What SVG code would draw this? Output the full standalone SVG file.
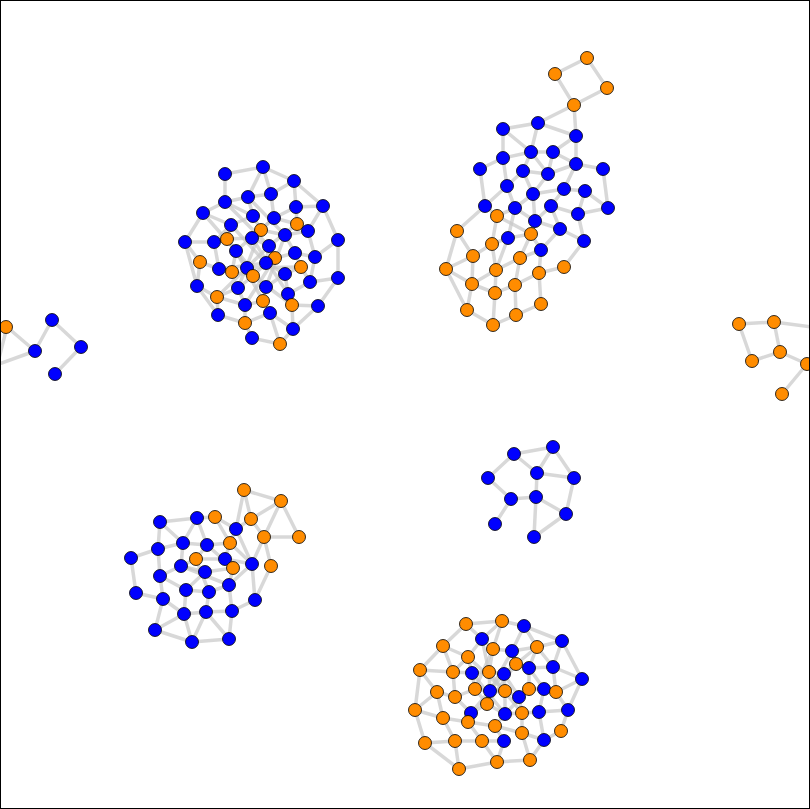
<svg xmlns="http://www.w3.org/2000/svg" width="810" height="809" viewBox="0 0 810 809">
<style>
.e line{stroke:#c8c8c8;stroke-opacity:0.7;stroke-width:3.5;stroke-linecap:round}
circle{stroke:#000;stroke-width:0.8}
.b{fill:#0000ff}
.o{fill:#ff8c00}
</style>
<rect x="0" y="0" width="810" height="809" fill="#fff"/>
<g class="e" id="connectors">
<!-- cluster 1 -->
<line x1="225" y1="174" x2="263" y2="167"/><line x1="263" y1="167" x2="294" y2="181"/><line x1="225" y1="174" x2="225" y2="202"/><line x1="263" y1="167" x2="248" y2="197"/><line x1="263" y1="167" x2="271" y2="194"/><line x1="294" y1="181" x2="271" y2="194"/><line x1="294" y1="181" x2="323" y2="206"/><line x1="294" y1="181" x2="296" y2="207"/><line x1="225" y1="202" x2="203" y2="213"/><line x1="225" y1="202" x2="248" y2="197"/><line x1="248" y1="197" x2="271" y2="194"/><line x1="225" y1="202" x2="253" y2="216"/><line x1="203" y1="213" x2="185" y2="242"/><line x1="203" y1="213" x2="231" y2="225"/><line x1="296" y1="207" x2="323" y2="206"/><line x1="296" y1="207" x2="274" y2="218"/><line x1="323" y1="206" x2="338" y2="240"/><line x1="323" y1="206" x2="308" y2="231"/><line x1="271" y1="194" x2="274" y2="218"/><line x1="248" y1="197" x2="253" y2="216"/><line x1="253" y1="216" x2="231" y2="225"/><line x1="253" y1="216" x2="261" y2="230"/><line x1="274" y1="218" x2="261" y2="230"/><line x1="274" y1="218" x2="297" y2="224"/><line x1="296" y1="207" x2="297" y2="224"/><line x1="297" y1="224" x2="308" y2="231"/><line x1="231" y1="225" x2="227" y2="239"/><line x1="231" y1="225" x2="214" y2="242"/><line x1="185" y1="242" x2="214" y2="242"/><line x1="185" y1="242" x2="200" y2="262"/><line x1="185" y1="242" x2="197" y2="286"/><line x1="214" y1="242" x2="227" y2="239"/><line x1="214" y1="242" x2="219" y2="269"/><line x1="227" y1="239" x2="252" y2="238"/><line x1="227" y1="239" x2="236" y2="251"/><line x1="252" y1="238" x2="261" y2="230"/><line x1="252" y1="238" x2="269" y2="246"/><line x1="261" y1="230" x2="285" y2="235"/><line x1="285" y1="235" x2="308" y2="231"/><line x1="285" y1="235" x2="295" y2="253"/><line x1="308" y1="231" x2="315" y2="257"/><line x1="338" y1="240" x2="338" y2="278"/><line x1="338" y1="240" x2="315" y2="257"/><line x1="236" y1="251" x2="247" y2="268"/><line x1="236" y1="251" x2="232" y2="272"/><line x1="269" y1="246" x2="275" y2="258"/><line x1="269" y1="246" x2="266" y2="263"/><line x1="275" y1="258" x2="295" y2="253"/><line x1="295" y1="253" x2="315" y2="257"/><line x1="295" y1="253" x2="301" y2="267"/><line x1="315" y1="257" x2="310" y2="282"/><line x1="200" y1="262" x2="219" y2="269"/><line x1="200" y1="262" x2="197" y2="286"/><line x1="219" y1="269" x2="232" y2="272"/><line x1="232" y1="272" x2="253" y2="276"/><line x1="247" y1="268" x2="253" y2="276"/><line x1="266" y1="263" x2="253" y2="276"/><line x1="266" y1="263" x2="285" y2="274"/><line x1="301" y1="267" x2="285" y2="274"/><line x1="301" y1="267" x2="310" y2="282"/><line x1="310" y1="282" x2="338" y2="278"/><line x1="338" y1="278" x2="318" y2="306"/><line x1="197" y1="286" x2="217" y2="297"/><line x1="197" y1="286" x2="218" y2="315"/><line x1="238" y1="288" x2="217" y2="297"/><line x1="238" y1="288" x2="253" y2="276"/><line x1="238" y1="288" x2="245" y2="305"/><line x1="266" y1="287" x2="263" y2="301"/><line x1="266" y1="287" x2="285" y2="274"/><line x1="285" y1="274" x2="288" y2="294"/><line x1="288" y1="294" x2="292" y2="305"/><line x1="288" y1="294" x2="310" y2="282"/><line x1="292" y1="305" x2="318" y2="306"/><line x1="292" y1="305" x2="293" y2="329"/><line x1="263" y1="301" x2="245" y2="305"/><line x1="263" y1="301" x2="270" y2="313"/><line x1="217" y1="297" x2="218" y2="315"/><line x1="217" y1="297" x2="245" y2="305"/><line x1="245" y1="305" x2="245" y2="323"/><line x1="270" y1="313" x2="245" y2="323"/><line x1="270" y1="313" x2="280" y2="344"/><line x1="270" y1="313" x2="293" y2="329"/><line x1="218" y1="315" x2="245" y2="323"/><line x1="245" y1="323" x2="252" y2="338"/><line x1="252" y1="338" x2="280" y2="344"/><line x1="280" y1="344" x2="293" y2="329"/><line x1="318" y1="306" x2="293" y2="329"/>
<line x1="225" y1="202" x2="269" y2="246"/><line x1="248" y1="197" x2="285" y2="235"/><line x1="231" y1="225" x2="266" y2="263"/><line x1="274" y1="218" x2="236" y2="251"/><line x1="203" y1="213" x2="236" y2="251"/><line x1="297" y1="224" x2="269" y2="246"/><line x1="252" y1="238" x2="288" y2="294"/><line x1="227" y1="239" x2="266" y2="287"/><line x1="261" y1="230" x2="238" y2="288"/><line x1="219" y1="269" x2="266" y2="263"/><line x1="275" y1="258" x2="245" y2="305"/><line x1="253" y1="276" x2="292" y2="305"/><line x1="247" y1="268" x2="301" y2="267"/><line x1="236" y1="251" x2="263" y2="301"/><line x1="269" y1="246" x2="217" y2="297"/><line x1="285" y1="235" x2="266" y2="287"/>
<!-- cluster 2 -->
<line x1="587" y1="58" x2="555" y2="74"/><line x1="587" y1="58" x2="607" y2="88"/><line x1="555" y1="74" x2="574" y2="105"/><line x1="607" y1="88" x2="574" y2="105"/><line x1="574" y1="105" x2="538" y2="123"/><line x1="574" y1="105" x2="576" y2="136"/><line x1="538" y1="123" x2="503" y2="129"/><line x1="538" y1="123" x2="531" y2="152"/><line x1="538" y1="123" x2="576" y2="136"/><line x1="503" y1="129" x2="531" y2="152"/><line x1="503" y1="129" x2="503" y2="158"/><line x1="576" y1="136" x2="553" y2="152"/><line x1="576" y1="136" x2="576" y2="164"/><line x1="503" y1="158" x2="531" y2="152"/><line x1="503" y1="158" x2="480" y2="169"/><line x1="503" y1="158" x2="507" y2="186"/><line x1="531" y1="152" x2="553" y2="152"/><line x1="531" y1="152" x2="523" y2="171"/><line x1="553" y1="152" x2="548" y2="174"/><line x1="553" y1="152" x2="576" y2="164"/><line x1="480" y1="169" x2="485" y2="206"/><line x1="523" y1="171" x2="548" y2="174"/><line x1="523" y1="171" x2="507" y2="186"/><line x1="548" y1="174" x2="576" y2="164"/><line x1="576" y1="164" x2="603" y2="169"/><line x1="576" y1="164" x2="564" y2="189"/><line x1="603" y1="169" x2="608" y2="208"/><line x1="548" y1="174" x2="533" y2="194"/><line x1="523" y1="171" x2="533" y2="194"/><line x1="531" y1="152" x2="548" y2="174"/>
<line x1="507" y1="186" x2="485" y2="206"/><line x1="507" y1="186" x2="515" y2="208"/><line x1="533" y1="194" x2="515" y2="208"/><line x1="533" y1="194" x2="535" y2="221"/><line x1="533" y1="194" x2="564" y2="189"/><line x1="564" y1="189" x2="585" y2="191"/><line x1="564" y1="189" x2="551" y2="206"/><line x1="585" y1="191" x2="578" y2="214"/><line x1="585" y1="191" x2="608" y2="208"/><line x1="551" y1="206" x2="578" y2="214"/><line x1="551" y1="206" x2="535" y2="221"/><line x1="551" y1="206" x2="560" y2="229"/><line x1="578" y1="214" x2="608" y2="208"/><line x1="578" y1="214" x2="584" y2="241"/><line x1="485" y1="206" x2="497" y2="216"/><line x1="485" y1="206" x2="457" y2="231"/><line x1="515" y1="208" x2="497" y2="216"/><line x1="515" y1="208" x2="508" y2="238"/><line x1="515" y1="208" x2="535" y2="221"/><line x1="497" y1="216" x2="492" y2="244"/><line x1="497" y1="216" x2="531" y2="234"/><line x1="535" y1="221" x2="531" y2="234"/><line x1="535" y1="221" x2="560" y2="229"/><line x1="560" y1="229" x2="584" y2="241"/><line x1="560" y1="229" x2="541" y2="250"/><line x1="584" y1="241" x2="564" y2="267"/><line x1="457" y1="231" x2="446" y2="269"/><line x1="457" y1="231" x2="473" y2="256"/><line x1="531" y1="234" x2="508" y2="238"/><line x1="531" y1="234" x2="541" y2="250"/><line x1="531" y1="234" x2="520" y2="258"/><line x1="508" y1="238" x2="492" y2="244"/><line x1="508" y1="238" x2="496" y2="270"/><line x1="492" y1="244" x2="473" y2="256"/><line x1="492" y1="244" x2="496" y2="270"/><line x1="541" y1="250" x2="539" y2="273"/><line x1="541" y1="250" x2="520" y2="258"/><line x1="473" y1="256" x2="446" y2="269"/><line x1="473" y1="256" x2="472" y2="284"/><line x1="520" y1="258" x2="496" y2="270"/><line x1="520" y1="258" x2="515" y2="285"/><line x1="564" y1="267" x2="539" y2="273"/><line x1="446" y1="269" x2="472" y2="284"/><line x1="446" y1="269" x2="467" y2="310"/><line x1="496" y1="270" x2="472" y2="284"/><line x1="496" y1="270" x2="495" y2="293"/><line x1="539" y1="273" x2="515" y2="285"/><line x1="539" y1="273" x2="541" y2="304"/><line x1="472" y1="284" x2="495" y2="293"/><line x1="515" y1="285" x2="495" y2="293"/><line x1="515" y1="285" x2="516" y2="315"/><line x1="495" y1="293" x2="493" y2="325"/><line x1="467" y1="310" x2="493" y2="325"/><line x1="516" y1="315" x2="493" y2="325"/><line x1="516" y1="315" x2="541" y2="304"/><line x1="472" y1="284" x2="467" y2="310"/>
<!-- cluster 3 -->
<line x1="7" y1="327" x2="35" y2="351"/><line x1="35" y1="351" x2="52" y2="320"/><line x1="52" y1="320" x2="81" y2="347"/><line x1="81" y1="347" x2="55" y2="374"/><line x1="35" y1="351" x2="-12" y2="368"/><line x1="7" y1="327" x2="-4" y2="370"/>
<!-- cluster 4 -->
<line x1="739" y1="324" x2="774" y2="322"/><line x1="739" y1="324" x2="752" y2="361"/><line x1="774" y1="322" x2="780" y2="352"/><line x1="752" y1="361" x2="780" y2="352"/><line x1="780" y1="352" x2="807" y2="364"/><line x1="807" y1="364" x2="782" y2="394"/><line x1="774" y1="322" x2="820" y2="328"/>
<!-- cluster 5 -->
<line x1="514" y1="454" x2="553" y2="447"/><line x1="514" y1="454" x2="488" y2="478"/><line x1="514" y1="454" x2="537" y2="473"/><line x1="553" y1="447" x2="537" y2="473"/><line x1="553" y1="447" x2="574" y2="478"/><line x1="537" y1="473" x2="574" y2="478"/><line x1="537" y1="473" x2="536" y2="497"/><line x1="488" y1="478" x2="511" y2="499"/><line x1="511" y1="499" x2="536" y2="497"/><line x1="511" y1="499" x2="495" y2="524"/><line x1="536" y1="497" x2="566" y2="514"/><line x1="536" y1="497" x2="534" y2="537"/><line x1="574" y1="478" x2="566" y2="514"/><line x1="566" y1="514" x2="534" y2="537"/>
<!-- cluster 6 -->
<line x1="244" y1="490" x2="281" y2="501"/><line x1="244" y1="490" x2="251" y2="519"/><line x1="244" y1="490" x2="236" y2="529"/><line x1="281" y1="501" x2="251" y2="519"/><line x1="281" y1="501" x2="299" y2="537"/><line x1="281" y1="501" x2="264" y2="537"/><line x1="160" y1="522" x2="197" y2="518"/><line x1="160" y1="522" x2="158" y2="549"/><line x1="160" y1="522" x2="183" y2="543"/><line x1="197" y1="518" x2="215" y2="517"/><line x1="197" y1="518" x2="183" y2="543"/><line x1="197" y1="518" x2="207" y2="545"/><line x1="215" y1="517" x2="236" y2="529"/><line x1="215" y1="517" x2="230" y2="543"/><line x1="251" y1="519" x2="236" y2="529"/><line x1="251" y1="519" x2="264" y2="537"/><line x1="236" y1="529" x2="230" y2="543"/><line x1="236" y1="529" x2="252" y2="564"/><line x1="264" y1="537" x2="299" y2="537"/><line x1="264" y1="537" x2="252" y2="564"/><line x1="264" y1="537" x2="271" y2="566"/><line x1="230" y1="543" x2="207" y2="545"/><line x1="230" y1="543" x2="225" y2="559"/><line x1="183" y1="543" x2="158" y2="549"/><line x1="183" y1="543" x2="207" y2="545"/><line x1="183" y1="543" x2="181" y2="566"/><line x1="207" y1="545" x2="196" y2="559"/><line x1="158" y1="549" x2="131" y2="558"/><line x1="158" y1="549" x2="160" y2="576"/><line x1="131" y1="558" x2="136" y2="593"/><line x1="196" y1="559" x2="181" y2="566"/><line x1="196" y1="559" x2="225" y2="559"/><line x1="225" y1="559" x2="252" y2="564"/><line x1="225" y1="559" x2="233" y2="568"/><line x1="252" y1="564" x2="229" y2="585"/><line x1="252" y1="564" x2="255" y2="600"/><line x1="271" y1="566" x2="255" y2="600"/><line x1="181" y1="566" x2="160" y2="576"/><line x1="181" y1="566" x2="205" y2="572"/><line x1="205" y1="572" x2="233" y2="568"/><line x1="233" y1="568" x2="229" y2="585"/><line x1="160" y1="576" x2="163" y2="599"/><line x1="160" y1="576" x2="186" y2="590"/><line x1="136" y1="593" x2="163" y2="599"/><line x1="186" y1="590" x2="209" y2="592"/><line x1="186" y1="590" x2="184" y2="614"/><line x1="163" y1="599" x2="184" y2="614"/><line x1="163" y1="599" x2="155" y2="630"/><line x1="209" y1="592" x2="229" y2="585"/><line x1="209" y1="592" x2="206" y2="612"/><line x1="229" y1="585" x2="232" y2="611"/><line x1="255" y1="600" x2="232" y2="611"/><line x1="184" y1="614" x2="206" y2="612"/><line x1="184" y1="614" x2="192" y2="642"/><line x1="206" y1="612" x2="232" y2="611"/><line x1="206" y1="612" x2="192" y2="642"/><line x1="206" y1="612" x2="229" y2="639"/><line x1="232" y1="611" x2="229" y2="639"/><line x1="155" y1="630" x2="192" y2="642"/><line x1="192" y1="642" x2="229" y2="639"/><line x1="155" y1="630" x2="184" y2="614"/><line x1="181" y1="566" x2="229" y2="585"/><line x1="205" y1="572" x2="186" y2="590"/><line x1="196" y1="559" x2="209" y2="592"/><line x1="207" y1="545" x2="233" y2="568"/><line x1="230" y1="543" x2="252" y2="564"/>
<!-- cluster 7 -->
<line x1="466" y1="624" x2="502" y2="621"/><line x1="466" y1="624" x2="443" y2="646"/><line x1="466" y1="624" x2="482" y2="639"/><line x1="502" y1="621" x2="524" y2="626"/><line x1="502" y1="621" x2="482" y2="639"/><line x1="502" y1="621" x2="493" y2="649"/><line x1="524" y1="626" x2="562" y2="641"/><line x1="524" y1="626" x2="537" y2="647"/><line x1="524" y1="626" x2="512" y2="651"/><line x1="562" y1="641" x2="537" y2="647"/><line x1="562" y1="641" x2="553" y2="667"/><line x1="562" y1="641" x2="582" y2="679"/><line x1="443" y1="646" x2="420" y2="670"/><line x1="443" y1="646" x2="468" y2="657"/><line x1="443" y1="646" x2="453" y2="672"/><line x1="482" y1="639" x2="468" y2="657"/><line x1="482" y1="639" x2="493" y2="649"/><line x1="493" y1="649" x2="512" y2="651"/><line x1="493" y1="649" x2="489" y2="672"/><line x1="512" y1="651" x2="537" y2="647"/><line x1="512" y1="651" x2="516" y2="664"/><line x1="537" y1="647" x2="529" y2="668"/><line x1="537" y1="647" x2="553" y2="667"/><line x1="468" y1="657" x2="453" y2="672"/><line x1="468" y1="657" x2="472" y2="673"/><line x1="516" y1="664" x2="504" y2="674"/><line x1="516" y1="664" x2="529" y2="668"/><line x1="529" y1="668" x2="553" y2="667"/><line x1="553" y1="667" x2="582" y2="679"/><line x1="553" y1="667" x2="556" y2="692"/><line x1="420" y1="670" x2="453" y2="672"/><line x1="420" y1="670" x2="437" y2="692"/><line x1="420" y1="670" x2="415" y2="710"/><line x1="453" y1="672" x2="472" y2="673"/><line x1="453" y1="672" x2="455" y2="697"/><line x1="472" y1="673" x2="489" y2="672"/><line x1="472" y1="673" x2="475" y2="689"/><line x1="489" y1="672" x2="504" y2="674"/><line x1="489" y1="672" x2="490" y2="691"/><line x1="504" y1="674" x2="505" y2="691"/><line x1="504" y1="674" x2="519" y2="697"/><line x1="529" y1="668" x2="529" y2="689"/><line x1="529" y1="668" x2="544" y2="689"/><line x1="582" y1="679" x2="556" y2="692"/><line x1="582" y1="679" x2="568" y2="710"/><line x1="437" y1="692" x2="455" y2="697"/><line x1="437" y1="692" x2="415" y2="710"/><line x1="437" y1="692" x2="443" y2="718"/><line x1="455" y1="697" x2="475" y2="689"/><line x1="455" y1="697" x2="471" y2="713"/><line x1="475" y1="689" x2="490" y2="691"/><line x1="475" y1="689" x2="487" y2="704"/><line x1="490" y1="691" x2="505" y2="691"/><line x1="490" y1="691" x2="487" y2="704"/><line x1="505" y1="691" x2="519" y2="697"/><line x1="505" y1="691" x2="505" y2="714"/><line x1="519" y1="697" x2="529" y2="689"/><line x1="519" y1="697" x2="522" y2="713"/><line x1="529" y1="689" x2="544" y2="689"/><line x1="544" y1="689" x2="556" y2="692"/><line x1="544" y1="689" x2="539" y2="712"/><line x1="556" y1="692" x2="568" y2="710"/><line x1="415" y1="710" x2="443" y2="718"/><line x1="415" y1="710" x2="425" y2="743"/><line x1="443" y1="718" x2="468" y2="722"/><line x1="443" y1="718" x2="455" y2="741"/><line x1="471" y1="713" x2="468" y2="722"/><line x1="471" y1="713" x2="487" y2="704"/><line x1="487" y1="704" x2="505" y2="714"/><line x1="505" y1="714" x2="522" y2="713"/><line x1="505" y1="714" x2="495" y2="726"/><line x1="522" y1="713" x2="539" y2="712"/><line x1="522" y1="713" x2="522" y2="733"/><line x1="539" y1="712" x2="568" y2="710"/><line x1="539" y1="712" x2="544" y2="740"/><line x1="568" y1="710" x2="561" y2="731"/><line x1="468" y1="722" x2="495" y2="726"/><line x1="468" y1="722" x2="482" y2="741"/><line x1="495" y1="726" x2="504" y2="741"/><line x1="495" y1="726" x2="522" y2="733"/><line x1="522" y1="733" x2="544" y2="740"/><line x1="522" y1="733" x2="530" y2="760"/><line x1="561" y1="731" x2="544" y2="740"/><line x1="425" y1="743" x2="455" y2="741"/><line x1="425" y1="743" x2="459" y2="769"/><line x1="455" y1="741" x2="482" y2="741"/><line x1="455" y1="741" x2="459" y2="769"/><line x1="482" y1="741" x2="504" y2="741"/><line x1="482" y1="741" x2="497" y2="762"/><line x1="504" y1="741" x2="497" y2="762"/><line x1="497" y1="762" x2="530" y2="760"/><line x1="459" y1="769" x2="497" y2="762"/><line x1="544" y1="740" x2="530" y2="760"/>
<line x1="468" y1="657" x2="505" y2="691"/><line x1="493" y1="649" x2="475" y2="689"/><line x1="512" y1="651" x2="490" y2="691"/><line x1="516" y1="664" x2="487" y2="704"/><line x1="472" y1="673" x2="505" y2="714"/><line x1="489" y1="672" x2="522" y2="713"/><line x1="504" y1="674" x2="471" y2="713"/><line x1="529" y1="689" x2="505" y2="714"/><line x1="482" y1="639" x2="489" y2="672"/><line x1="537" y1="647" x2="504" y2="674"/>
</g>
<g id="c1">
<g id="n1"><circle class="b" cx="225" cy="174" r="6.5"/></g>
<g id="n2"><circle class="b" cx="263" cy="167" r="6.5"/></g>
<g id="n3"><circle class="b" cx="294" cy="181" r="6.5"/></g>
<g id="n4"><circle class="b" cx="225" cy="202" r="6.5"/></g>
<g id="n5"><circle class="b" cx="248" cy="197" r="6.5"/></g>
<g id="n6"><circle class="b" cx="271" cy="194" r="6.5"/></g>
<g id="n7"><circle class="b" cx="203" cy="213" r="6.5"/></g>
<g id="n8"><circle class="b" cx="296" cy="207" r="6.5"/></g>
<g id="n9"><circle class="b" cx="323" cy="206" r="6.5"/></g>
<g id="n10"><circle class="b" cx="253" cy="216" r="6.5"/></g>
<g id="n11"><circle class="b" cx="274" cy="218" r="6.5"/></g>
<g id="n12"><circle class="b" cx="231" cy="225" r="6.5"/></g>
<g id="n13"><circle class="o" cx="261" cy="230" r="6.5"/></g>
<g id="n14"><circle class="o" cx="297" cy="224" r="6.5"/></g>
<g id="n15"><circle class="b" cx="308" cy="231" r="6.5"/></g>
<g id="n16"><circle class="b" cx="185" cy="242" r="6.5"/></g>
<g id="n17"><circle class="b" cx="214" cy="242" r="6.5"/></g>
<g id="n18"><circle class="o" cx="227" cy="239" r="6.5"/></g>
<g id="n19"><circle class="b" cx="252" cy="238" r="6.5"/></g>
<g id="n20"><circle class="b" cx="285" cy="235" r="6.5"/></g>
<g id="n21"><circle class="b" cx="338" cy="240" r="6.5"/></g>
<g id="n22"><circle class="b" cx="236" cy="251" r="6.5"/></g>
<g id="n23"><circle class="b" cx="269" cy="246" r="6.5"/></g>
<g id="n24"><circle class="o" cx="275" cy="258" r="6.5"/></g>
<g id="n25"><circle class="b" cx="295" cy="253" r="6.5"/></g>
<g id="n26"><circle class="b" cx="315" cy="257" r="6.5"/></g>
<g id="n27"><circle class="o" cx="200" cy="262" r="6.5"/></g>
<g id="n28"><circle class="b" cx="219" cy="269" r="6.5"/></g>
<g id="n29"><circle class="o" cx="232" cy="272" r="6.5"/></g>
<g id="n30"><circle class="b" cx="247" cy="268" r="6.5"/></g>
<g id="n31"><circle class="b" cx="266" cy="263" r="6.5"/></g>
<g id="n32"><circle class="o" cx="253" cy="276" r="6.5"/></g>
<g id="n33"><circle class="b" cx="285" cy="274" r="6.5"/></g>
<g id="n34"><circle class="o" cx="301" cy="267" r="6.5"/></g>
<g id="n35"><circle class="b" cx="310" cy="282" r="6.5"/></g>
<g id="n36"><circle class="b" cx="338" cy="278" r="6.5"/></g>
<g id="n37"><circle class="b" cx="197" cy="286" r="6.5"/></g>
<g id="n38"><circle class="b" cx="238" cy="288" r="6.5"/></g>
<g id="n39"><circle class="b" cx="266" cy="287" r="6.5"/></g>
<g id="n40"><circle class="o" cx="217" cy="297" r="6.5"/></g>
<g id="n41"><circle class="o" cx="263" cy="301" r="6.5"/></g>
<g id="n42"><circle class="b" cx="288" cy="294" r="6.5"/></g>
<g id="n43"><circle class="o" cx="292" cy="305" r="6.5"/></g>
<g id="n44"><circle class="b" cx="318" cy="306" r="6.5"/></g>
<g id="n45"><circle class="b" cx="245" cy="305" r="6.5"/></g>
<g id="n46"><circle class="b" cx="270" cy="313" r="6.5"/></g>
<g id="n47"><circle class="b" cx="218" cy="315" r="6.5"/></g>
<g id="n48"><circle class="o" cx="245" cy="323" r="6.5"/></g>
<g id="n49"><circle class="b" cx="293" cy="329" r="6.5"/></g>
<g id="n50"><circle class="b" cx="252" cy="338" r="6.5"/></g>
<g id="n51"><circle class="o" cx="280" cy="344" r="6.5"/></g>
</g>
<g id="c2">
<g id="m1"><circle class="o" cx="587" cy="58" r="6.5"/></g>
<g id="m2"><circle class="o" cx="555" cy="74" r="6.5"/></g>
<g id="m3"><circle class="o" cx="607" cy="88" r="6.5"/></g>
<g id="m4"><circle class="o" cx="574" cy="105" r="6.5"/></g>
<g id="m5"><circle class="b" cx="538" cy="123" r="6.5"/></g>
<g id="m6"><circle class="b" cx="503" cy="129" r="6.5"/></g>
<g id="m7"><circle class="b" cx="576" cy="136" r="6.5"/></g>
<g id="m8"><circle class="b" cx="503" cy="158" r="6.5"/></g>
<g id="m9"><circle class="b" cx="531" cy="152" r="6.5"/></g>
<g id="m10"><circle class="b" cx="553" cy="152" r="6.5"/></g>
<g id="m11"><circle class="b" cx="576" cy="164" r="6.5"/></g>
<g id="m12"><circle class="b" cx="480" cy="169" r="6.5"/></g>
<g id="m13"><circle class="b" cx="523" cy="171" r="6.5"/></g>
<g id="m14"><circle class="b" cx="548" cy="174" r="6.5"/></g>
<g id="m15"><circle class="b" cx="603" cy="169" r="6.5"/></g>
<g id="m16"><circle class="b" cx="507" cy="186" r="6.5"/></g>
<g id="m17"><circle class="b" cx="533" cy="194" r="6.5"/></g>
<g id="m18"><circle class="b" cx="564" cy="189" r="6.5"/></g>
<g id="m19"><circle class="b" cx="585" cy="191" r="6.5"/></g>
<g id="m20"><circle class="b" cx="485" cy="206" r="6.5"/></g>
<g id="m21"><circle class="b" cx="515" cy="208" r="6.5"/></g>
<g id="m22"><circle class="b" cx="551" cy="206" r="6.5"/></g>
<g id="m23"><circle class="b" cx="578" cy="214" r="6.5"/></g>
<g id="m24"><circle class="b" cx="608" cy="208" r="6.5"/></g>
<g id="m25"><circle class="o" cx="497" cy="216" r="6.5"/></g>
<g id="m26"><circle class="b" cx="535" cy="221" r="6.5"/></g>
<g id="m27"><circle class="o" cx="457" cy="231" r="6.5"/></g>
<g id="m28"><circle class="b" cx="560" cy="229" r="6.5"/></g>
<g id="m29"><circle class="o" cx="531" cy="234" r="6.5"/></g>
<g id="m30"><circle class="b" cx="508" cy="238" r="6.5"/></g>
<g id="m31"><circle class="b" cx="584" cy="241" r="6.5"/></g>
<g id="m32"><circle class="o" cx="492" cy="244" r="6.5"/></g>
<g id="m33"><circle class="b" cx="541" cy="250" r="6.5"/></g>
<g id="m34"><circle class="o" cx="473" cy="256" r="6.5"/></g>
<g id="m35"><circle class="o" cx="520" cy="258" r="6.5"/></g>
<g id="m36"><circle class="o" cx="564" cy="267" r="6.5"/></g>
<g id="m37"><circle class="o" cx="446" cy="269" r="6.5"/></g>
<g id="m38"><circle class="o" cx="496" cy="270" r="6.5"/></g>
<g id="m39"><circle class="o" cx="539" cy="273" r="6.5"/></g>
<g id="m40"><circle class="o" cx="472" cy="284" r="6.5"/></g>
<g id="m41"><circle class="o" cx="515" cy="285" r="6.5"/></g>
<g id="m42"><circle class="o" cx="495" cy="293" r="6.5"/></g>
<g id="m43"><circle class="o" cx="541" cy="304" r="6.5"/></g>
<g id="m44"><circle class="o" cx="467" cy="310" r="6.5"/></g>
<g id="m45"><circle class="o" cx="516" cy="315" r="6.5"/></g>
<g id="m46"><circle class="o" cx="493" cy="325" r="6.5"/></g>
</g>
<g id="c3">
<g id="l1"><circle class="o" cx="6" cy="327" r="6.5"/></g>
<g id="l2"><circle class="b" cx="52" cy="320" r="6.5"/></g>
<g id="l3"><circle class="b" cx="35" cy="351" r="6.5"/></g>
<g id="l4"><circle class="b" cx="81" cy="347" r="6.5"/></g>
<g id="l5"><circle class="b" cx="55" cy="374" r="6.5"/></g>
</g>
<g id="c4">
<g id="r1"><circle class="o" cx="739" cy="324" r="6.5"/></g>
<g id="r2"><circle class="o" cx="774" cy="322" r="6.5"/></g>
<g id="r3"><circle class="o" cx="780" cy="352" r="6.5"/></g>
<g id="r4"><circle class="o" cx="752" cy="361" r="6.5"/></g>
<g id="r5"><circle class="o" cx="807" cy="364" r="6.5"/></g>
<g id="r6"><circle class="o" cx="782" cy="394" r="6.5"/></g>
</g>
<g id="c5">
<g id="k1"><circle class="b" cx="553" cy="447" r="6.5"/></g>
<g id="k2"><circle class="b" cx="514" cy="454" r="6.5"/></g>
<g id="k3"><circle class="b" cx="537" cy="473" r="6.5"/></g>
<g id="k4"><circle class="b" cx="574" cy="478" r="6.5"/></g>
<g id="k5"><circle class="b" cx="488" cy="478" r="6.5"/></g>
<g id="k6"><circle class="b" cx="511" cy="499" r="6.5"/></g>
<g id="k7"><circle class="b" cx="536" cy="497" r="6.5"/></g>
<g id="k8"><circle class="b" cx="566" cy="514" r="6.5"/></g>
<g id="k9"><circle class="b" cx="495" cy="524" r="6.5"/></g>
<g id="k10"><circle class="b" cx="534" cy="537" r="6.5"/></g>
</g>
<g id="c6">
<g id="p1"><circle class="o" cx="244" cy="490" r="6.5"/></g>
<g id="p2"><circle class="o" cx="281" cy="501" r="6.5"/></g>
<g id="p3"><circle class="b" cx="160" cy="522" r="6.5"/></g>
<g id="p4"><circle class="b" cx="197" cy="518" r="6.5"/></g>
<g id="p5"><circle class="o" cx="215" cy="517" r="6.5"/></g>
<g id="p6"><circle class="o" cx="251" cy="519" r="6.5"/></g>
<g id="p7"><circle class="b" cx="236" cy="529" r="6.5"/></g>
<g id="p8"><circle class="o" cx="264" cy="537" r="6.5"/></g>
<g id="p9"><circle class="o" cx="299" cy="537" r="6.5"/></g>
<g id="p10"><circle class="o" cx="230" cy="543" r="6.5"/></g>
<g id="p11"><circle class="b" cx="183" cy="543" r="6.5"/></g>
<g id="p12"><circle class="b" cx="207" cy="545" r="6.5"/></g>
<g id="p13"><circle class="b" cx="158" cy="549" r="6.5"/></g>
<g id="p14"><circle class="b" cx="131" cy="558" r="6.5"/></g>
<g id="p15"><circle class="o" cx="196" cy="559" r="6.5"/></g>
<g id="p16"><circle class="b" cx="225" cy="559" r="6.5"/></g>
<g id="p17"><circle class="b" cx="252" cy="564" r="6.5"/></g>
<g id="p18"><circle class="o" cx="271" cy="566" r="6.5"/></g>
<g id="p19"><circle class="b" cx="181" cy="566" r="6.5"/></g>
<g id="p20"><circle class="o" cx="233" cy="568" r="6.5"/></g>
<g id="p21"><circle class="b" cx="205" cy="572" r="6.5"/></g>
<g id="p22"><circle class="b" cx="160" cy="576" r="6.5"/></g>
<g id="p23"><circle class="b" cx="229" cy="585" r="6.5"/></g>
<g id="p24"><circle class="b" cx="186" cy="590" r="6.5"/></g>
<g id="p25"><circle class="b" cx="209" cy="592" r="6.5"/></g>
<g id="p26"><circle class="b" cx="136" cy="593" r="6.5"/></g>
<g id="p27"><circle class="b" cx="163" cy="599" r="6.5"/></g>
<g id="p28"><circle class="b" cx="255" cy="600" r="6.5"/></g>
<g id="p29"><circle class="b" cx="184" cy="614" r="6.5"/></g>
<g id="p30"><circle class="b" cx="206" cy="612" r="6.5"/></g>
<g id="p31"><circle class="b" cx="232" cy="611" r="6.5"/></g>
<g id="p32"><circle class="b" cx="155" cy="630" r="6.5"/></g>
<g id="p33"><circle class="b" cx="192" cy="642" r="6.5"/></g>
<g id="p34"><circle class="b" cx="229" cy="639" r="6.5"/></g>
</g>
<g id="c7">
<g id="q1"><circle class="o" cx="466" cy="624" r="6.5"/></g>
<g id="q2"><circle class="o" cx="502" cy="621" r="6.5"/></g>
<g id="q3"><circle class="b" cx="524" cy="626" r="6.5"/></g>
<g id="q4"><circle class="b" cx="562" cy="641" r="6.5"/></g>
<g id="q5"><circle class="b" cx="482" cy="639" r="6.5"/></g>
<g id="q6"><circle class="o" cx="443" cy="646" r="6.5"/></g>
<g id="q7"><circle class="o" cx="537" cy="647" r="6.5"/></g>
<g id="q8"><circle class="o" cx="493" cy="649" r="6.5"/></g>
<g id="q9"><circle class="b" cx="512" cy="651" r="6.5"/></g>
<g id="q10"><circle class="o" cx="468" cy="657" r="6.5"/></g>
<g id="q11"><circle class="o" cx="516" cy="664" r="6.5"/></g>
<g id="q12"><circle class="b" cx="529" cy="668" r="6.5"/></g>
<g id="q13"><circle class="b" cx="553" cy="667" r="6.5"/></g>
<g id="q14"><circle class="o" cx="420" cy="670" r="6.5"/></g>
<g id="q15"><circle class="o" cx="453" cy="672" r="6.5"/></g>
<g id="q16"><circle class="b" cx="472" cy="673" r="6.5"/></g>
<g id="q17"><circle class="o" cx="489" cy="672" r="6.5"/></g>
<g id="q18"><circle class="b" cx="504" cy="674" r="6.5"/></g>
<g id="q19"><circle class="b" cx="582" cy="679" r="6.5"/></g>
<g id="q20"><circle class="o" cx="437" cy="692" r="6.5"/></g>
<g id="q21"><circle class="o" cx="475" cy="689" r="6.5"/></g>
<g id="q22"><circle class="b" cx="490" cy="691" r="6.5"/></g>
<g id="q23"><circle class="o" cx="505" cy="691" r="6.5"/></g>
<g id="q24"><circle class="b" cx="519" cy="697" r="6.5"/></g>
<g id="q25"><circle class="o" cx="529" cy="689" r="6.5"/></g>
<g id="q26"><circle class="b" cx="544" cy="689" r="6.5"/></g>
<g id="q27"><circle class="o" cx="556" cy="692" r="6.5"/></g>
<g id="q28"><circle class="o" cx="455" cy="697" r="6.5"/></g>
<g id="q29"><circle class="o" cx="415" cy="710" r="6.5"/></g>
<g id="q30"><circle class="o" cx="443" cy="718" r="6.5"/></g>
<g id="q31"><circle class="b" cx="471" cy="713" r="6.5"/></g>
<g id="q32"><circle class="o" cx="487" cy="704" r="6.5"/></g>
<g id="q33"><circle class="b" cx="505" cy="714" r="6.5"/></g>
<g id="q34"><circle class="o" cx="522" cy="713" r="6.5"/></g>
<g id="q35"><circle class="b" cx="539" cy="712" r="6.5"/></g>
<g id="q36"><circle class="b" cx="568" cy="710" r="6.5"/></g>
<g id="q37"><circle class="o" cx="468" cy="722" r="6.5"/></g>
<g id="q38"><circle class="o" cx="495" cy="726" r="6.5"/></g>
<g id="q39"><circle class="o" cx="522" cy="733" r="6.5"/></g>
<g id="q40"><circle class="o" cx="561" cy="731" r="6.5"/></g>
<g id="q41"><circle class="o" cx="425" cy="743" r="6.5"/></g>
<g id="q42"><circle class="o" cx="455" cy="741" r="6.5"/></g>
<g id="q43"><circle class="o" cx="482" cy="741" r="6.5"/></g>
<g id="q44"><circle class="b" cx="504" cy="741" r="6.5"/></g>
<g id="q45"><circle class="b" cx="544" cy="740" r="6.5"/></g>
<g id="q46"><circle class="o" cx="497" cy="762" r="6.5"/></g>
<g id="q47"><circle class="o" cx="530" cy="760" r="6.5"/></g>
<g id="q48"><circle class="o" cx="459" cy="769" r="6.5"/></g>
</g>
<rect x="0.5" y="0.5" width="809" height="808" fill="none" stroke="#000" stroke-width="1"/>
</svg>
